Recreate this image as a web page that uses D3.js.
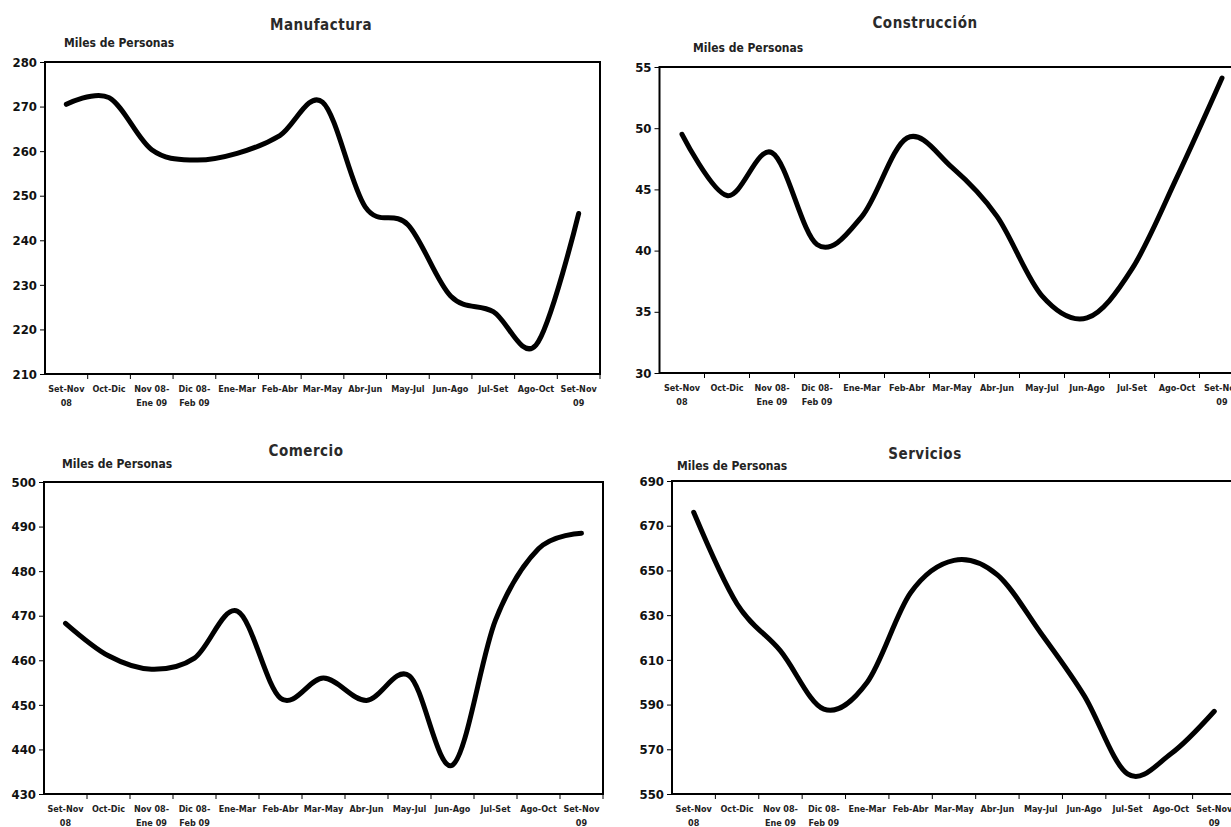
<!DOCTYPE html>
<html>
<head>
<meta charset="utf-8">
<script src="https://cdn.jsdelivr.net/npm/d3@7"></script>
<style>
  body { margin: 0; background: #fff; }
  svg { display: block; font-family: "DejaVu Sans Condensed", "Liberation Sans", sans-serif; }
</style>
</head>
<body>
<svg id="chart" width="1231" height="827"></svg>
<script>
  // Categories (two-line labels)
  const categories = [
    ['Set-Nov', '08'], ['Oct-Dic'], ['Nov 08-', 'Ene 09'], ['Dic 08-', 'Feb 09'],
    ['Ene-Mar'], ['Feb-Abr'], ['Mar-May'], ['Abr-Jun'], ['May-Jul'],
    ['Jun-Ago'], ['Jul-Set'], ['Ago-Oct'], ['Set-Nov', '09']
  ];

  // Series values (miles de personas)
  const manufactura = [270.5, 272.0, 260.3, 258.0, 259.5, 263.5, 271.0, 247.5, 243.5, 227.5, 224.0, 216.5, 246.0];
  const construccion = [49.5, 44.5, 48.0, 40.5, 42.8, 49.2, 46.8, 42.8, 36.3, 34.5, 38.5, 46.0, 54.1];
  const comercio = [468.3, 461.0, 458.0, 460.5, 471.0, 451.5, 456.0, 451.0, 456.5, 436.5, 469.0, 485.0, 488.5];
  const servicios = [676, 635, 614, 588, 600, 640, 654.5, 648, 622, 594, 559, 568, 587];

  // Y tick values
  const manufTicks = [210, 220, 230, 240, 250, 260, 270, 280];
  const construTicks = [30, 35, 40, 45, 50, 55];
  const comercioTicks = [430, 440, 450, 460, 470, 480, 490, 500];
  const serviciosTicks = [550, 570, 590, 610, 630, 650, 670, 690];

  const titles = ['Manufactura', 'Construcción', 'Comercio', 'Servicios'];
  const unitLabel = 'Miles de Personas';

  // Panel layout
  const panels = [
    { title: titles[0], values: manufactura, ticks: manufTicks,
      left: 45, right: 600, top: 62, bottom: 374, titleX: 321, titleY: 30, unitX: 64, unitY: 47 },
    { title: titles[1], values: construccion, ticks: construTicks,
      left: 659.5, right: 1244.5, top: 67, bottom: 373, titleX: 925, titleY: 28, unitX: 693, unitY: 52 },
    { title: titles[2], values: comercio, ticks: comercioTicks,
      left: 44, right: 603, top: 482, bottom: 794, titleX: 306, titleY: 456, unitX: 62, unitY: 468 },
    { title: titles[3], values: servicios, ticks: serviciosTicks,
      left: 672, right: 1236, top: 481, bottom: 794, titleX: 925, titleY: 459, unitX: 677, unitY: 470 }
  ];

  const svg = d3.select('#chart');

  panels.forEach(p => {
    const g = svg.append('g');

    const x = d3.scaleBand()
      .domain(d3.range(categories.length))
      .range([p.left, p.right])
      .padding(0);

    const y = d3.scaleLinear()
      .domain(d3.extent(p.ticks))
      .range([p.bottom, p.top]);

    // Title
    g.append('text')
      .attr('x', p.titleX)
      .attr('y', p.titleY)
      .attr('text-anchor', 'middle')
      .style('font-size', '15px')
      .style('font-weight', 'bold')
      .style('letter-spacing', '0.5px')
      .style('fill', '#2a2a2a')
      .text(p.title);

    g.append('text')
      .attr('x', p.unitX)
      .attr('y', p.unitY)
      .style('font-size', '12px')
      .style('font-weight', 'bold')
      .style('fill', '#222')
      .text(unitLabel);

    // Y axis
    const yAxis = g.append('g')
      .attr('transform', `translate(${p.left},0)`)
      .call(d3.axisLeft(y).tickValues(p.ticks).tickSize(5).tickPadding(3));
    yAxis.select('.domain').remove();
    yAxis.selectAll('line').attr('stroke', '#000').attr('stroke-width', 1);
    yAxis.selectAll('text')
      .style('font-size', '13px')
      .style('font-weight', 'bold')
      .style('font-family', '"DejaVu Sans Condensed", sans-serif')
      .style('fill', '#111');

    // X tick marks between categories
    g.selectAll('.xtick')
      .data(d3.range(1, categories.length + 1))
      .enter()
      .append('line')
      .attr('x1', i => x.step() * i + p.left)
      .attr('x2', i => x.step() * i + p.left)
      .attr('y1', p.bottom)
      .attr('y2', p.bottom + 5)
      .attr('stroke', '#000')
      .attr('stroke-width', 1);

    // X labels
    const xl = g.selectAll('.xlabel')
      .data(categories)
      .enter()
      .append('text')
      .attr('text-anchor', 'middle')
      .attr('x', (d, i) => x(i) + x.bandwidth() / 2)
      .attr('y', p.bottom + 18)
      .style('font-size', '9px')
      .style('font-weight', 'bold')
      .style('fill', '#222');
    xl.selectAll('tspan')
      .data(d => d)
      .enter()
      .append('tspan')
      .attr('x', function() { return d3.select(this.parentNode).attr('x'); })
      .attr('dy', (d, j) => j === 0 ? 0 : 14)
      .text(d => d);

    // Plot border
    g.append('rect')
      .attr('x', p.left)
      .attr('y', p.top)
      .attr('width', p.right - p.left)
      .attr('height', p.bottom - p.top)
      .attr('fill', 'none')
      .attr('stroke', '#000')
      .attr('stroke-width', 2);

    // Line
    const line = d3.line()
      .x((d, i) => x(i) + x.bandwidth() / 2)
      .y(d => y(d))
      .curve(d3.curveCatmullRom.alpha(0));

    g.append('path')
      .datum(p.values)
      .attr('fill', 'none')
      .attr('stroke', '#000')
      .attr('stroke-width', 5)
      .attr('stroke-linecap', 'round')
      .attr('stroke-linejoin', 'round')
      .attr('d', line);
  });
</script>
</body>
</html>
